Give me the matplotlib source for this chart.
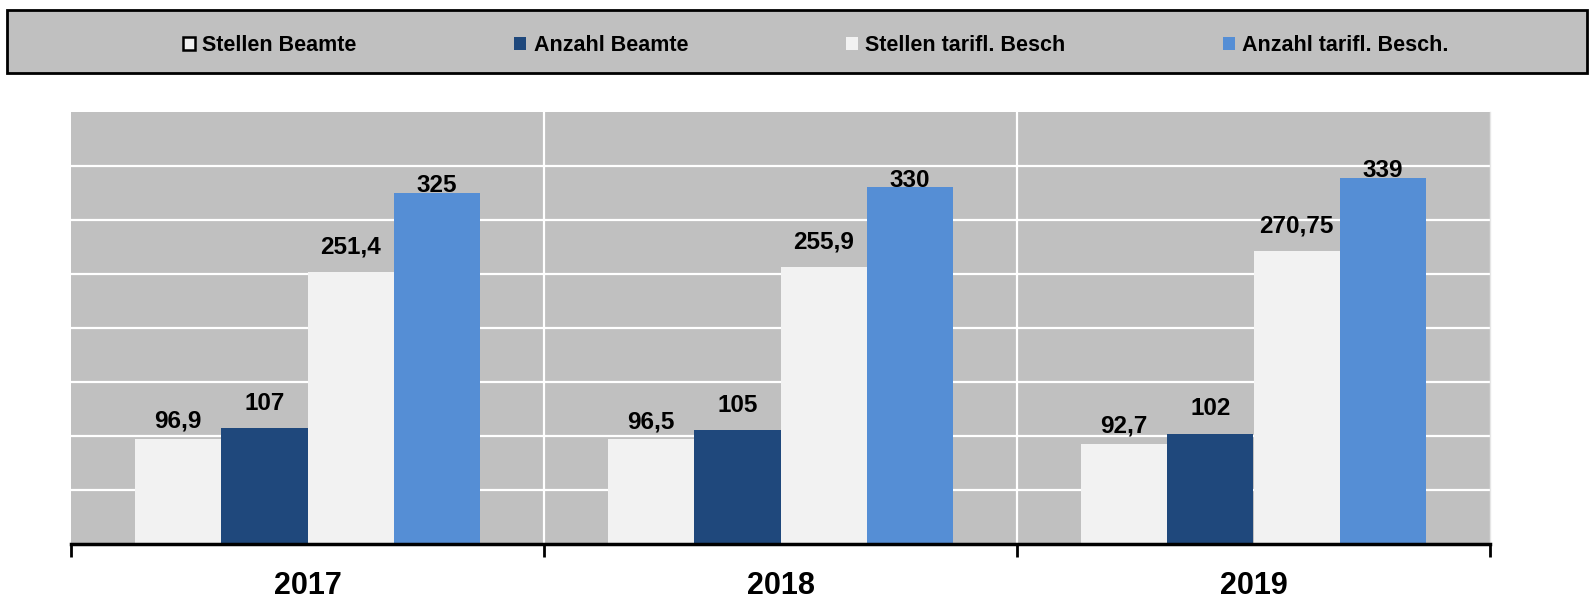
import numpy as np
import matplotlib
matplotlib.use('Agg')
import matplotlib.pyplot as plt
from matplotlib.patches import Rectangle, Patch

plt.rcParams['font.family'] = ['Liberation Sans', 'DejaVu Sans']
plt.rcParams['font.weight'] = 'bold'

years = ['2017', '2018', '2019']
series_names = ['Stellen Beamte', 'Anzahl Beamte', 'Stellen tarifl. Besch', 'Anzahl tarifl. Besch.']
stellen_beamte = [96.9, 96.5, 92.7]
anzahl_beamte = [107, 105, 102]
stellen_tarif = [251.4, 255.9, 270.75]
anzahl_tarif = [325, 330, 339]
value_labels = [['96,9', '96,5', '92,7'],
                ['107', '105', '102'],
                ['251,4', '255,9', '270,75'],
                ['325', '330', '339']]

colors = ['#F2F2F2', '#1F487C', '#F2F2F2', '#558ED5']
label_offsets = [8, 13, 13.7, 0.5]  # points above bar top (baseline)

fig = plt.figure(figsize=(15.92, 5.99), dpi=100)
ax = fig.add_axes([71 / 1592, 1 - 543.7 / 599, 1419 / 1592, 432 / 599])
ax.set_facecolor('#C0C0C0')

x = np.arange(len(years))
w = 0.1825
data = [stellen_beamte, anzahl_beamte, stellen_tarif, anzahl_tarif]
for i, vals in enumerate(data):
    pos = x + (i - 1.5) * w
    ax.bar(pos, vals, width=w, color=colors[i], zorder=3, linewidth=0)
    for p, v, lab in zip(pos, vals, value_labels[i]):
        ax.annotate(lab, (p, v), xytext=(0, label_offsets[i]), textcoords='offset points',
                    ha='center', va='baseline', fontsize=17.5, fontweight='bold', zorder=4)

ax.set_ylim(0, 400)
ax.set_xlim(-0.5, 2.5)
ax.set_yticks(np.arange(50, 400, 50))
ax.yaxis.grid(True, color='white', linewidth=1.6, zorder=1)
ax.tick_params(axis='y', length=0, labelleft=False)
for b in [0.5, 1.5]:
    ax.axvline(b, color='white', linewidth=1.6, zorder=1)

ax.set_xticks([-0.5, 0.5, 1.5, 2.5])
ax.set_xticklabels([])
ax.tick_params(axis='x', which='major', direction='out', length=9, width=2, color='black')
ax.set_xticks(x, minor=True)
ax.set_xticklabels(years, minor=True, fontsize=22, fontweight='bold')
ax.tick_params(axis='x', which='minor', length=0, pad=20)

for s in ['top', 'left']:
    ax.spines[s].set_visible(False)
ax.spines['right'].set_color('#E6E6E6')
ax.spines['right'].set_linewidth(1)
ax.spines['bottom'].set_linewidth(2.5)
ax.spines['bottom'].set_zorder(5)

# legend box
fig.patches.append(Rectangle((7 / 1592, 1 - 73 / 599), 1580 / 1592, 63 / 599,
                             transform=fig.transFigure, facecolor='#C0C0C0',
                             edgecolor='black', linewidth=2, zorder=0))
handles = [Patch(facecolor=colors[0], edgecolor='black', linewidth=1.8),
           Patch(facecolor=colors[1], edgecolor='none'),
           Patch(facecolor=colors[2], edgecolor='none'),
           Patch(facecolor=colors[3], edgecolor='none')]
fig.legend(handles, series_names, ncol=4, mode='expand', frameon=False,
           bbox_to_anchor=(183 / 1592, 1 - 56 / 599, 1266 / 1592, 30 / 599), loc='lower left',
           prop={'size': 15.5, 'weight': 'bold'}, handlelength=0.55, handleheight=0.55,
           handletextpad=0.35, borderaxespad=0, borderpad=0)

fig.savefig('out.png', dpi=100)
